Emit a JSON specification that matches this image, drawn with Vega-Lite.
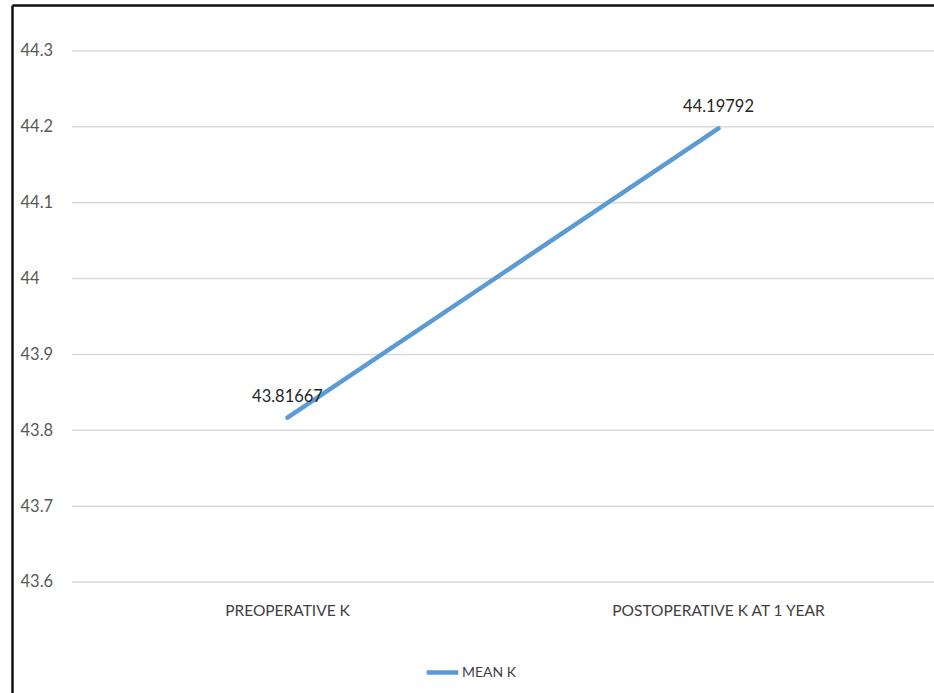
{
  "$schema": "https://vega.github.io/schema/vega-lite/v6.json",
  "width": 922,
  "height": 688,
  "autosize": {"type": "none"},
  "padding": {"left": 12, "top": 5, "right": 0, "bottom": 0},
  "background": "white",
  "config": {
    "view": {"stroke": null},
    "font": "Lato"
  },
  "datasets": {
    "meanK": [
      {"stage": "PREOPERATIVE K", "meanK": 43.81667, "series": "MEAN K"},
      {"stage": "POSTOPERATIVE K AT 1 YEAR", "meanK": 44.19792, "series": "MEAN K"}
    ],
    "gridTicks": [
      {"tick": 43.6}, {"tick": 43.7}, {"tick": 43.8}, {"tick": 43.9},
      {"tick": 44.0}, {"tick": 44.1}, {"tick": 44.2}, {"tick": 44.3}
    ]
  },
  "layer": [
    {
      "data": {"name": "gridTicks"},
      "mark": {"type": "rule", "color": "#d9d9d9", "strokeWidth": 1.5},
      "encoding": {
        "y": {
          "field": "tick",
          "type": "quantitative",
          "title": null,
          "axis": {
            "orient": "left",
            "title": null,
            "values": [43.6, 43.7, 43.8, 43.9, 44.0, 44.1, 44.2, 44.3],
            "format": "~g",
            "domain": true,
            "domainColor": "#111111",
            "domainWidth": 2.5,
            "labels": true,
            "ticks": false,
            "tickSize": 0,
            "grid": false,
            "labelAlign": "left",
            "labelPadding": -8,
            "labelFont": "Lato",
            "labelFontSize": 16.5,
            "labelColor": "#595959"
          }
        },
        "x": {
          "datum": "PREOPERATIVE K",
          "type": "nominal",
          "bandPosition": 0,
          "title": null,
          "axis": {
            "orient": "top",
            "title": null,
            "domain": true,
            "domainColor": "#111111",
            "domainWidth": 2.5,
            "labels": true,
            "ticks": false,
            "tickSize": 0,
            "grid": false,
            "labelAngle": 0,
            "labelAlign": "center",
            "labelPadding": -605,
            "labelBaseline": "middle",
            "labelLimit": 0,
            "labelFont": "Lato",
            "labelFontSize": 15.5,
            "labelColor": "#404040"
          }
        },
        "x2": {"datum": "POSTOPERATIVE K AT 1 YEAR", "bandPosition": 1}
      }
    },
    {
      "data": {"name": "meanK"},
      "encoding": {
        "x": {
          "field": "stage",
          "type": "nominal",
          "sort": null,
          "title": null,
          "scale": {
            "type": "band",
            "domain": ["PREOPERATIVE K", "POSTOPERATIVE K AT 1 YEAR"],
            "paddingInner": 0,
            "paddingOuter": 0.0696,
            "align": 1
          },
          "axis": {"orient": "top", "domain": false, "labels": false, "ticks": false, "grid": false}
        },
        "y": {
          "field": "meanK",
          "type": "quantitative",
          "title": null,
          "scale": {"domain": [43.45367, 44.36064], "nice": false, "zero": false},
          "axis": {"orient": "left", "domain": false, "labels": false, "ticks": false, "grid": false}
        }
      },
      "layer": [
        {
          "mark": {"type": "line", "strokeWidth": 4.5, "strokeCap": "round"},
          "encoding": {
            "color": {
              "field": "series",
              "type": "nominal",
              "scale": {"range": ["#5B9BD5"]},
              "legend": {
                "title": null,
                "orient": "none",
                "legendX": 412,
                "legendY": 649,
                "padding": 0,
                "symbolType": "stroke",
                "symbolSize": 1000,
                "symbolStrokeWidth": 4.5,
                "labelOffset": 1,
                "labelFont": "Lato",
                "labelFontSize": 14,
                "labelColor": "#404040"
              }
            }
          }
        },
        {
          "mark": {"type": "text", "dy": -16, "baseline": "alphabetic", "fontSize": 16.5, "font": "Lato", "color": "#262626"},
          "encoding": {
            "text": {"field": "meanK", "type": "quantitative", "format": ".5f"}
          }
        }
      ]
    }
  ]
}
